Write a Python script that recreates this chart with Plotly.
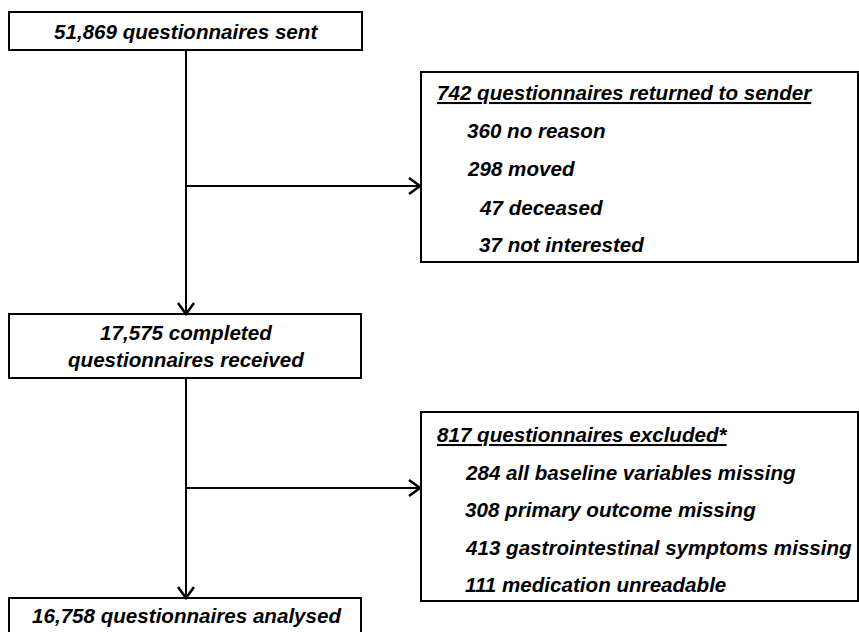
import plotly.graph_objects as go

# ---- data ----
sent = 51869
returned_total = 742
returned_labels = ["no reason", "moved", "deceased", "not interested"]
returned_counts = [360, 298, 47, 37]
received = 17575
excluded_total = 817
excluded_labels = ["all baseline variables missing", "primary outcome missing",
                   "gastrointestinal symptoms missing", "medication unreadable"]
excluded_counts = [284, 308, 413, 111]
analysed = 16758

W, H = 859, 632
FONT = dict(family="Liberation Sans, Arial, sans-serif", size=20.6, color="black",
            weight="bold", style="italic")
LW = 2

fig = go.Figure()
fig.update_xaxes(range=[0, W], visible=False, fixedrange=True)
fig.update_yaxes(range=[H, 0], visible=False, fixedrange=True)

def box(x0, y0, x1, y1):
    fig.add_shape(type="rect", x0=x0, y0=y0, x1=x1, y1=y1,
                  line=dict(color="black", width=LW), fillcolor="white", layer="below")

def line(x0, y0, x1, y1):
    fig.add_shape(type="line", x0=x0, y0=y0, x1=x1, y1=y1,
                  line=dict(color="black", width=LW))

def head_down(x, y):
    fig.add_shape(type="path", path=f"M {x-8},{y-11} L {x},{y} L {x+8},{y-11}",
                  line=dict(color="black", width=2.5))

def head_right(x, y):
    fig.add_shape(type="path", path=f"M {x-11},{y-8} L {x},{y} L {x-11},{y+8}",
                  line=dict(color="black", width=2.5))

def text(x, y, s, anchor="center", underline=False):
    f = dict(FONT)
    if underline:
        f["lineposition"] = "under"
    fig.add_annotation(x=x, y=y, text=s, showarrow=False, xanchor=anchor,
                       yanchor="middle", font=f, align=anchor if anchor != "center" else "center")

cx = 186
# boxes
box(9, 12, 362, 50)
box(421, 72, 858, 262)
box(9, 314, 361, 378)
box(421, 412, 858, 601)
box(9, 598, 361, 634)

# connectors
line(cx, 50, cx, 314)
head_down(cx, 314)
line(cx, 186, 420, 186)
head_right(420, 186)
line(cx, 378, cx, 598)
head_down(cx, 598)
line(cx, 488, 420, 488)
head_right(420, 488)

fmt = lambda n: f"{n:,}"

text(cx, 31, f"{fmt(sent)} questionnaires sent")
text(435, 92, f"{returned_total} questionnaires returned to sender", "left", underline=True)
ret_x = [465, 465, 477, 477]
ret_y = [130, 168, 207, 244]
for lab, n, xx, yy in zip(returned_labels, returned_counts, ret_x, ret_y):
    text(xx, yy, f"{n} {lab}", "left")
text(cx, 346, f"{fmt(received)} completed<br>questionnaires received")
text(435, 434, f"{excluded_total} questionnaires excluded*", "left", underline=True)
exc_y = [472, 509, 547, 584]
for lab, n, yy in zip(excluded_labels, excluded_counts, exc_y):
    text(463, yy, f"{n} {lab}", "left")
text(cx, 615, f"{fmt(analysed)} questionnaires analysed")

fig.update_layout(width=W, height=H, margin=dict(l=0, r=0, t=0, b=0),
                  plot_bgcolor="white", paper_bgcolor="white", showlegend=False)
fig.write_html("out.html", config={"displayModeBar": False},
               post_script="document.body.style.margin='0';document.body.style.padding='0';")
